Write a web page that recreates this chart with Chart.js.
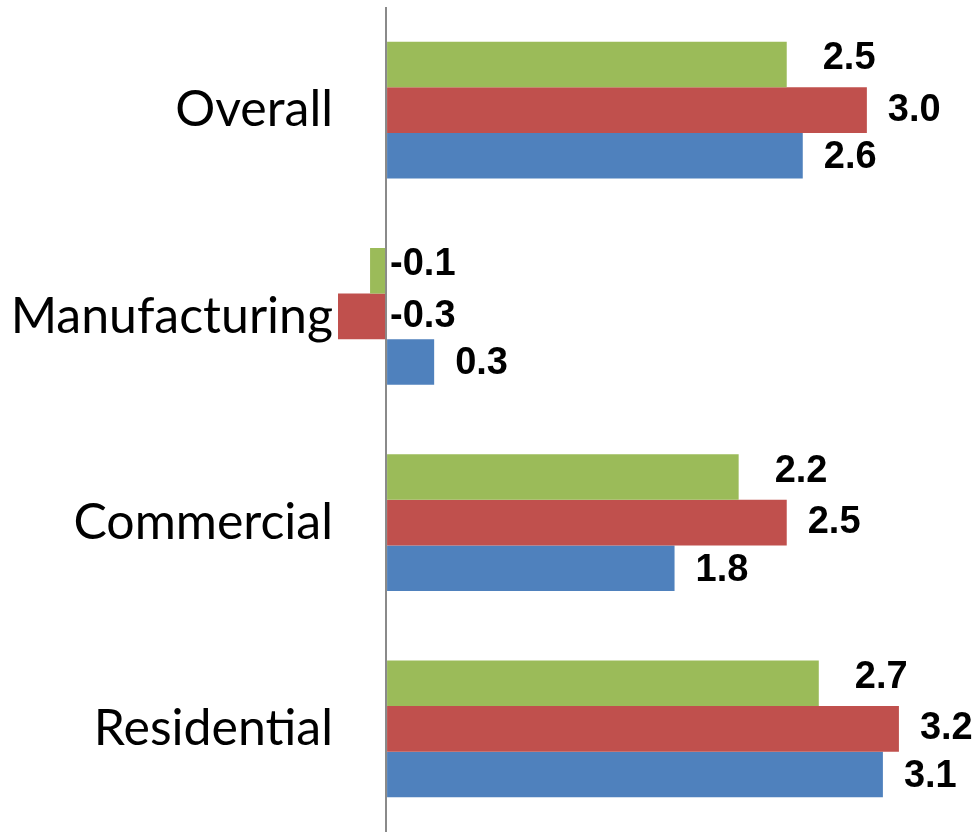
<!DOCTYPE html>
<html>
<head>
<meta charset="utf-8">
<script src="https://cdn.jsdelivr.net/npm/chart.js@4.4.1/dist/chart.umd.min.js"></script>
<style>
  html, body { margin: 0; padding: 0; background: #fff; }
  #wrap { width: 973px; height: 832px; position: relative; }
</style>
</head>
<body>
<div id="wrap"><canvas id="growthChart"></canvas></div>
<script>
const categories = ['Overall', 'Manufacturing', 'Commercial', 'Residential'];
const greenValues = [2.5, -0.1, 2.2, 2.7];
const redValues   = [3.0, -0.3, 2.5, 3.2];
const blueValues  = [2.6, 0.3, 1.8, 3.1];

// label nudges per series: [dx from bar end, dy from bar centre]
const labelNudge = [[36, -6], [21, 0], [21, 2]];

// value labels drawn next to each bar
const barLabels = {
  id: 'barLabels',
  afterDatasetsDraw(chart) {
    const ctx = chart.ctx;
    const zeroX = chart.scales.x.getPixelForValue(0);
    ctx.save();
    ctx.font = 'bold 38px "Liberation Sans", Arial, sans-serif';
    ctx.fillStyle = '#000';
    ctx.textAlign = 'left';
    ctx.textBaseline = 'middle';
    chart.data.datasets.forEach((ds, i) => {
      chart.getDatasetMeta(i).data.forEach((bar, j) => {
        const v = ds.data[j];
        const x = v < 0 ? zeroX + 4 : bar.x + labelNudge[i][0];
        ctx.fillText(v.toFixed(1), x, bar.y + labelNudge[i][1]);
      });
    });
    ctx.restore();
  }
};

new Chart(document.getElementById('growthChart'), {
  type: 'bar',
  data: {
    labels: categories,
    datasets: [
      { label: 'Series 1', data: greenValues, backgroundColor: '#9BBB59' },
      { label: 'Series 2', data: redValues, backgroundColor: '#C0504D' },
      { label: 'Series 3', data: blueValues, backgroundColor: '#4F81BD' }
    ]
  },
  options: {
    indexAxis: 'y',
    responsive: true,
    maintainAspectRatio: false,
    animation: false,
    layout: { padding: { top: 7, right: 26, bottom: 0, left: 0 } },
    datasets: { bar: { categoryPercentage: 0.663, barPercentage: 1 } },
    plugins: { legend: { display: false }, tooltip: { enabled: false } },
    scales: {
      x: {
        min: -0.3,
        max: 3.5,
        afterBuildTicks: s => { s.ticks = [{ value: 0 }]; },
        afterFit: s => { s.height = 0; s.paddingLeft = 0; s.paddingRight = 0; },
        ticks: { display: false },
        border: { display: false },
        grid: { color: '#8a8a8a', lineWidth: 2, drawTicks: false }
      },
      y: {
        afterFit: s => { s.width = 338; s.paddingTop = 0; s.paddingBottom = 0; },
        border: { display: false },
        grid: { display: false, drawTicks: false },
        ticks: {
          padding: 5,
          color: '#000',
          font: { family: 'Lato', size: 50 }
        }
      }
    }
  },
  plugins: [barLabels]
});
</script>
</body>
</html>
